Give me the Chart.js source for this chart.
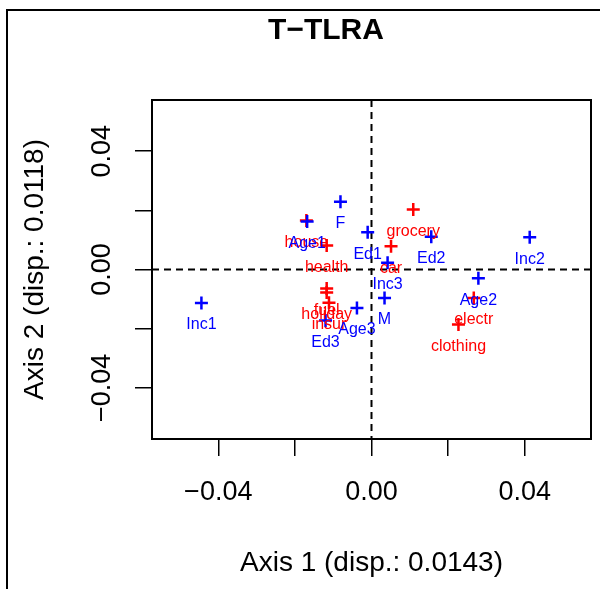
<!DOCTYPE html>
<html>
<head>
<meta charset="utf-8">
<script src="https://cdn.jsdelivr.net/npm/chart.js@4"></script>
<style>
  body { margin: 0; background: #fff; }
  canvas { display: block; }
</style>
</head>
<body>
<canvas id="plot" width="600" height="589"></canvas>
<script>
// Data
const blueNames = ["Inc1", "Inc2", "Inc3", "Age1", "Age2", "Age3", "Ed1", "Ed2", "Ed3", "F", "M"];
const blueX = [-0.0444, 0.0413, 0.0042, -0.0168, 0.0279, -0.0038, -0.0010, 0.0156, -0.0120, -0.0081, 0.0034];
const blueY = [-0.0113, 0.0109, 0.0023, 0.0162, -0.0030, -0.0130, 0.0126, 0.0111, -0.0172, 0.0229, -0.0096];

const redNames = ["house", "health", "grocery", "car", "fuel", "holiday", "insur", "electr", "clothing"];
const redX = [-0.0170, -0.0117, 0.0109, 0.0051, -0.0117, -0.0117, -0.0111, 0.0267, 0.0227];
const redY = [0.0166, 0.0081, 0.0203, 0.0079, -0.0064, -0.0078, -0.0112, -0.0096, -0.0186];

const tickValues = [-0.04, -0.02, 0, 0.02, 0.04];
const tickLabels = ["\u22120.04", "", "0.00", "", "0.04"];

const FONT = "'Liberation Sans', Arial, sans-serif";

function toPoints(xs, ys) {
  return xs.map((x, i) => ({ x, y: ys[i] }));
}

// Extra drawing: zero lines, point labels, frame, titles
const decor = {
  id: "decor",
  beforeDatasetsDraw(chart) {
    const { ctx, chartArea: a, scales } = chart;
    const x0 = scales.x.getPixelForValue(0);
    const y0 = scales.y.getPixelForValue(0);
    ctx.save();
    ctx.strokeStyle = "#000";
    ctx.lineWidth = 2;
    ctx.setLineDash([7, 5]);
    ctx.beginPath();
    ctx.moveTo(x0, a.top); ctx.lineTo(x0, a.bottom);
    ctx.moveTo(a.left, y0); ctx.lineTo(a.right, y0);
    ctx.stroke();
    ctx.restore();
  },
  afterDatasetsDraw(chart) {
    const { ctx } = chart;
    ctx.save();
    ctx.font = "16px " + FONT;
    ctx.textAlign = "center";
    ctx.textBaseline = "middle";
    [1, 0].forEach(di => {
      const ds = chart.data.datasets[di];
      const meta = chart.getDatasetMeta(di);
      ctx.fillStyle = ds.borderColor;
      meta.data.forEach((pt, i) => {
        ctx.fillText(ds.names[i], pt.x, pt.y + 22);
      });
    });
    ctx.restore();
  },
  afterDraw(chart) {
    const { ctx, chartArea: a, scales } = chart;
    ctx.save();
    // plot frame
    ctx.strokeStyle = "#000";
    ctx.lineWidth = 2;
    ctx.strokeRect(a.left, a.top, a.right - a.left, a.bottom - a.top);
    // outer figure border
    ctx.beginPath();
    ctx.moveTo(7, 589); ctx.lineTo(7, 10); ctx.lineTo(600, 10);
    ctx.stroke();
    ctx.fillStyle = "#000";
    ctx.textAlign = "center";
    ctx.textBaseline = "middle";
    // title
    ctx.font = "bold 30px " + FONT;
    ctx.fillText("T\u2212TLRA", 326, 31);
    // axis titles
    ctx.font = "28px " + FONT;
    ctx.fillText("Axis 1 (disp.: 0.0143)", (a.left + a.right) / 2, 563);
    ctx.save();
    ctx.translate(35, (a.top + a.bottom) / 2);
    ctx.rotate(-Math.PI / 2);
    ctx.fillText("Axis 2 (disp.: 0.0118)", 0, 0);
    ctx.restore();
    // y tick labels, rotated like R
    ctx.font = "27px " + FONT;
    tickValues.forEach((v, i) => {
      if (!tickLabels[i]) return;
      const y = scales.y.getPixelForValue(v);
      ctx.save();
      ctx.translate(103, y);
      ctx.rotate(-Math.PI / 2);
      ctx.fillText(tickLabels[i], 0, 0);
      ctx.restore();
    });
    ctx.restore();
  }
};

const setTicks = s => { s.ticks = tickValues.map(v => ({ value: v })); };

new Chart(document.getElementById("plot"), {
  type: "scatter",
  data: {
    datasets: [
      {
        label: "columns",
        names: blueNames,
        data: toPoints(blueX, blueY),
        pointStyle: "cross",
        radius: 6.5,
        borderWidth: 2.5,
        borderColor: "#0000ff",
        backgroundColor: "#0000ff"
      },
      {
        label: "rows",
        names: redNames,
        data: toPoints(redX, redY),
        pointStyle: "cross",
        radius: 6.5,
        borderWidth: 2.5,
        borderColor: "#ff0000",
        backgroundColor: "#ff0000"
      }
    ]
  },
  options: {
    responsive: false,
    animation: false,
    layout: { padding: { top: 100, right: 6, left: 0, bottom: 0 } },
    plugins: {
      legend: { display: false },
      title: { display: false },
      tooltip: { enabled: false }
    },
    scales: {
      x: {
        type: "linear",
        min: -0.0573,
        max: 0.0573,
        afterBuildTicks: setTicks,
        afterFit: s => { s.height = 150; },
        border: { display: false },
        grid: { drawOnChartArea: false, drawTicks: true, tickLength: 17, color: "#000", lineWidth: 1.5 },
        ticks: {
          color: "#000",
          font: { size: 27, family: FONT },
          padding: 20,
          maxRotation: 0,
          autoSkip: false,
          callback: (v, i) => tickLabels[i]
        }
      },
      y: {
        type: "linear",
        min: -0.0573,
        max: 0.0573,
        afterBuildTicks: setTicks,
        afterFit: s => { s.width = 152; },
        border: { display: false },
        grid: { drawOnChartArea: false, drawTicks: true, tickLength: 17, color: "#000", lineWidth: 1.5 },
        ticks: { display: false }
      }
    }
  },
  plugins: [decor]
});
</script>
</body>
</html>
